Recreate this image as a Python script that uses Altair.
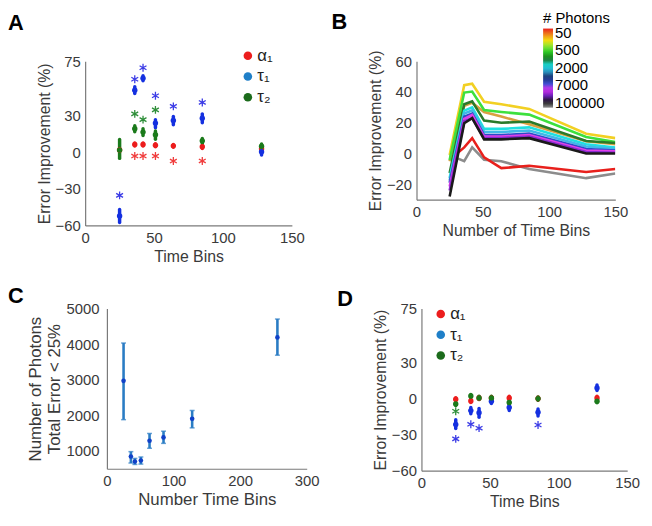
import altair as alt
import pandas as pd

FONT = "Liberation Sans"
TXT = "#3a3a3a"

SERIES = ["α₁", "τ₁", "τ₂"]
POINT_COLORS = ["#ec1d1d", "#1430e0", "#1b7a1b"]
STAR_COLORS = ["#f03c3c", "#3c3ce6", "#2f8f3a"]
LEGEND_COLORS = ["#ec1d1d", "#1f7fc8", "#1b6b1b"]
STAR = "M0,-1L0,1M-0.87,-0.5L0.87,0.5M-0.87,0.5L0.87,-0.5"

# ---------------- Panel A ----------------
a_alpha1_x = [25, 36, 42, 51, 64, 85, 128]
a_alpha1 = [2, 6.5, 6.5, 5.9, 5.4, 4.6, 3]
a_alpha1_lo = [0.5, 5.3, 5.3, 4.7, 4.2, 3.2, 1.5]
a_alpha1_hi = [3.5, 7.7, 7.7, 7.1, 6.6, 6.0, 4.5]
a_tau1_x = [25, 36, 42, 51, 64, 85, 128]
a_tau1 = [-52.3, 51.2, 61, 24.1, 26.3, 28.1, 0.5]
a_tau1_lo = [-57.7, 48.5, 59, 20.3, 22.8, 24.4, -2.2]
a_tau1_hi = [-47, 54, 63, 26.8, 29.5, 31.7, 3.2]
a_tau2_x = [25, 36, 42, 51, 85, 128]
a_tau2 = [1.9, 19.5, 16.7, 14.6, 9.5, 5.1]
a_tau2_lo = [-4.9, 17, 14, 10.8, 7.5, 3]
a_tau2_hi = [10.6, 22, 19.5, 17.6, 11.5, 7]
a_star_alpha1_x = [36, 42, 51, 64, 85]
a_star_alpha1 = [-3, -3, -3, -7.1, -7]
a_star_tau1_x = [25, 36, 42, 51, 64, 85]
a_star_tau1 = [-35.3, 60.2, 69.6, 46.6, 37.9, 41.1]
a_star_tau2_x = [36, 42, 51]
a_star_tau2 = [31.7, 27, 35]

# ---------------- Panel D ----------------
d_alpha1_x = [25, 36, 42, 51, 64, 85, 128]
d_alpha1 = [-0.5, -1.9, 0.5, 0.5, 0.6, 0, 0.6]
d_alpha1_lo = [-1.8, -3.2, -0.8, -0.8, -0.7, -1.3, -0.7]
d_alpha1_hi = [0.8, -0.6, 1.8, 1.8, 1.9, 1.3, 1.9]
d_tau1_x = [25, 36, 42, 51, 64, 85, 128]
d_tau1 = [-21.6, -10, -11.8, -2.1, -7.3, -11.3, 8.9]
d_tau1_lo = [-24.8, -12.7, -15.5, -4, -10, -14.5, 6.7]
d_tau1_hi = [-17.5, -7.3, -8.2, -0.4, -4.6, -8.6, 11.4]
d_tau2_x = [25, 36, 42, 51, 64, 85, 128]
d_tau2 = [-4.5, 2.2, 0.6, 0.6, -3.2, 0, -2.1]
d_tau2_lo = [-5.8, 0.9, -0.7, -0.7, -4.5, -1.3, -3.4]
d_tau2_hi = [-3.2, 3.5, 1.9, 1.9, -1.9, 1.3, -0.8]
d_star_tau1_x = [25, 36, 42, 85]
d_star_tau1 = [-33.5, -21.4, -24.6, -22]
d_star_tau2_x = [25]
d_star_tau2 = [-10.5]

# ---------------- Panel B ----------------
b_x = [25, 36, 42, 51, 64, 85, 128, 150]
b_names = ["gray", "red", "orange", "yellow", "green", "darkgreen",
           "cyan", "lightblue", "blue", "magenta", "purple", "black"]
b_colors = ["#8c8c8c", "#e8201c", "#d9a040", "#f2d023", "#3de03d", "#2a7a2a",
            "#20e0e0", "#40b8e8", "#2a4cc8", "#e040e8", "#8a2ad0", "#1a1a1a"]
b_values = [
    [-1, -5, 4, -4, -5, -10, -16, -13],
    [-4, 4, 10, -2.5, -9.5, -8, -12, -10],
    [-5, 31, 33, 27, 24, 19, 8, 6],
    [-1, 44.4, 45.4, 33.6, 32, 29, 12.9, 10],
    [-4.3, 39.6, 40.3, 28.3, 27, 25.3, 10.7, 7.5],
    [-12.7, 32, 34, 21.4, 20, 20.8, 8.1, 6.9],
    [-16, 27.9, 30, 16, 16, 17, 6, 3.9],
    [-17.5, 26, 28, 14, 14, 15, 4.5, 3],
    [-19, 24, 26, 12, 12, 13, 3, 2],
    [-21.5, 22.5, 25, 11, 11, 12, 2, 1.5],
    [-24, 21, 23, 10, 10, 11, 1, 0.5],
    [-28, 19.7, 23, 9.2, 9.2, 10, 0, 0],
]
# colour bar, listed from bottom (position 0) to top (position 1)
cb_colors = ["#909090", "#101010", "#7020c0", "#e030f0", "#3050d0", "#1a2a6a",
             "#2aa0c8", "#18e0e0", "#1a6a1a", "#20c020", "#7de83a", "#f2e010",
             "#f08a1a", "#e8201c"]
cb_labels = ["50", "500", "2000", "7000", "100000"]
cb_label_pos = [0.94, 0.725, 0.5, 0.29, 0.06]

# ---------------- Panel C ----------------
c_x = [25, 36, 42, 51, 64, 85, 128, 256]
c_y = [2968, 842, 703, 730, 1286, 1379, 1905, 4187]
c_lo = [1878, 660, 620, 630, 1074, 1212, 1647, 3688]
c_hi = [4030, 980, 790, 830, 1490, 1554, 2136, 4704]


def letter_layer(letter, dx, dy):
    return alt.Chart(pd.DataFrame({"t": [letter]})).mark_text(
        fontSize=22, fontWeight="bold", font=FONT, color="black",
        align="left", baseline="alphabetic").encode(
        text="t:N", x=alt.value(dx), y=alt.value(dy))


def letter_chart(letter, dy):
    return letter_layer(letter, 0, dy).properties(width=1, height=1)


def err_panel(series_data, star_data, lx, ly, w, h, extra=None):
    rows = []
    for si, (xs, ys, los, his) in enumerate(series_data):
        for xv, yv, lo, hi in zip(xs, ys, los, his):
            rows.append({"series": SERIES[si], "x": xv, "y": yv, "lo": lo, "hi": hi,
                         "color": POINT_COLORS[si]})
    pdf = pd.DataFrame(rows)
    srows = []
    for si, (xs, ys) in enumerate(star_data):
        for xv, yv in zip(xs, ys):
            srows.append({"x": xv, "y": yv, "color": STAR_COLORS[si]})
    sdf = pd.DataFrame(srows)
    xsc = alt.Scale(domain=[0, 150], nice=False)
    ysc = alt.Scale(domain=[-60, 75], nice=False)
    xax = alt.Axis(values=[0, 50, 100, 150], title="Time Bins")
    yax = alt.Axis(values=[-60, -30, 0, 30, 75], title="Error Improvement (%)")
    rules = alt.Chart(pdf).mark_rule(strokeWidth=3.5, strokeCap="round").encode(
        x=alt.X("x:Q", scale=xsc, axis=xax),
        y=alt.Y("lo:Q", scale=ysc, axis=yax),
        y2="hi:Q",
        color=alt.Color("color:N", scale=None),
    )
    dots = alt.Chart(pdf).mark_circle(size=30, opacity=1).encode(
        x="x:Q", y="y:Q", color=alt.Color("color:N", scale=None))
    stars = alt.Chart(sdf).mark_point(shape=STAR, filled=False, size=64,
                                      strokeWidth=1.3, opacity=1).encode(
        x="x:Q", y="y:Q", color=alt.Color("color:N", scale=None))
    ldf = pd.DataFrame({"series": SERIES})
    leg = alt.Chart(ldf).mark_circle(opacity=0).encode(
        x=alt.value(0), y=alt.value(0),
        fill=alt.Fill("series:N", scale=alt.Scale(domain=SERIES, range=LEGEND_COLORS),
                      legend=alt.Legend(title=None, orient="none", legendX=lx, legendY=ly,
                                        labelFontSize=17, labelFont=FONT, labelColor="#222",
                                        symbolType="circle", symbolSize=75, symbolOpacity=1,
                                        symbolStrokeWidth=0, rowPadding=3, labelOffset=1,
                                        padding=0)),
    )
    layers = [leg, rules, dots, stars] + ([extra] if extra is not None else [])
    return alt.layer(*layers).properties(width=w, height=h)


panel_a = err_panel(
    [(a_alpha1_x, a_alpha1, a_alpha1_lo, a_alpha1_hi),
     (a_tau1_x, a_tau1, a_tau1_lo, a_tau1_hi),
     (a_tau2_x, a_tau2, a_tau2_lo, a_tau2_hi)],
    [(a_star_alpha1_x, a_star_alpha1), (a_star_tau1_x, a_star_tau1),
     (a_star_tau2_x, a_star_tau2)],
    156, -14, 209, 166)

panel_d = err_panel(
    [(d_alpha1_x, d_alpha1, d_alpha1_lo, d_alpha1_hi),
     (d_tau1_x, d_tau1, d_tau1_lo, d_tau1_hi),
     (d_tau2_x, d_tau2, d_tau2_lo, d_tau2_hi)],
    [([], []), (d_star_tau1_x, d_star_tau1), (d_star_tau2_x, d_star_tau2)],
    11, -3, 208, 164, extra=letter_layer("D", -85, -3))

# Panel B
brows = []
for i, (nm, col, vals) in enumerate(zip(b_names, b_colors, b_values)):
    for xv, yv in zip(b_x, vals):
        brows.append({"series": f"{i:02d}_{nm}", "x": xv, "y": yv, "color": col})
bdf = pd.DataFrame(brows)
lines_b = alt.Chart(bdf).mark_line(strokeWidth=2.6, clip=True).encode(
    x=alt.X("x:Q", scale=alt.Scale(domain=[0, 150], nice=False),
            axis=alt.Axis(values=[0, 50, 100, 150], title="Number of Time Bins")),
    y=alt.Y("y:Q", scale=alt.Scale(domain=[-30, 60], nice=False),
            axis=alt.Axis(values=[-20, 0, 20, 40, 60], title="Error Improvement (%)")),
    detail="series:N",
    stroke=alt.Stroke("color:N", scale=None),
)
n_cb = len(cb_colors)
cb_pos = [i / (n_cb - 1) for i in range(n_cb)]
label_expr = "''"
for pos, lab in reversed(list(zip(cb_label_pos, cb_labels))):
    label_expr = f"datum.value == {pos} ? '{lab}' : ({label_expr})"
cbdf = pd.DataFrame({"lvl": cb_pos})
cbar = alt.Chart(cbdf).mark_point(opacity=0).encode(
    x=alt.value(0), y=alt.value(0),
    color=alt.Color("lvl:Q",
                    scale=alt.Scale(domain=cb_pos, range=cb_colors, interpolate="rgb"),
                    legend=alt.Legend(title="# Photons", orient="none", legendX=128, legendY=-51,
                                      direction="vertical", gradientLength=80,
                                      gradientThickness=10, gradientStrokeWidth=0,
                                      values=cb_label_pos, labelExpr=label_expr,
                                      labelOverlap=False, labelFontSize=15, labelFont=FONT,
                                      labelColor="black", labelOffset=2, labelBaseline="middle",
                                      titleFontSize=15, titleFont=FONT, titleColor="black",
                                      titleFontWeight="normal", titlePadding=3, padding=0)),
)
panel_b = alt.layer(cbar, lines_b, letter_layer("B", -86, -33)).properties(width=201, height=140)

# Panel C
cdf = pd.DataFrame({"x": c_x, "y": c_y, "lo": c_lo, "hi": c_hi})
CBLUE = "#2a7cc4"
xsc_c = alt.Scale(domain=[0, 300], nice=False)
ysc_c = alt.Scale(domain=[500, 5000], nice=False)
bars_c = alt.Chart(cdf).mark_rule(strokeWidth=2.6, color=CBLUE).encode(
    x=alt.X("x:Q", scale=xsc_c, axis=alt.Axis(values=[0, 50, 100, 150, 200, 250, 300],
                                              title="Number Time Bins", titleFontSize=17)),
    y=alt.Y("lo:Q", scale=ysc_c,
            axis=alt.Axis(values=[1000, 2000, 3000, 4000, 5000], format="d",
                          title=["Number of Photons", "Total Error < 25%"],
                          titleFontSize=17, labelPadding=8)),
    y2="hi:Q",
)
cap_lo = alt.Chart(cdf).mark_tick(orient="horizontal", size=5, thickness=1.5, color=CBLUE).encode(
    x="x:Q", y="lo:Q")
cap_hi = alt.Chart(cdf).mark_tick(orient="horizontal", size=5, thickness=1.5, color=CBLUE).encode(
    x="x:Q", y="hi:Q")
dots_c = alt.Chart(cdf).mark_circle(size=22, opacity=1, color="#1040c8").encode(x="x:Q", y="y:Q")
panel_c = alt.layer(bars_c, cap_lo, cap_hi, dots_c).properties(width=202, height=162)

IND = dict(color="independent", fill="independent", stroke="independent")


def hc(*charts, spacing):
    return alt.hconcat(*charts, spacing=spacing).resolve_scale(**IND).resolve_legend(**IND)


row1 = hc(hc(letter_chart("A", -32), panel_a, spacing=12), panel_b, spacing=27)
row2 = hc(hc(letter_chart("C", -6), panel_c, spacing=2), panel_d, spacing=18)
chart = alt.vconcat(row1, row2, spacing=21).resolve_scale(**IND).resolve_legend(**IND).properties(
    padding={"left": 0, "top": 0, "right": 4, "bottom": 4}
).configure_view(stroke=None).configure_axis(
    grid=False, ticks=False, labelFont=FONT, labelFontSize=15, labelColor=TXT,
    titleFont=FONT, titleFontSize=16, titleFontWeight="normal", titleColor=TXT,
    domainColor="#7a7a7a", domainWidth=1.2, labelPadding=5, titlePadding=3,
    labelFlush=False,
)

chart.save("out.html", embed_options={"renderer": "svg", "actions": False})
